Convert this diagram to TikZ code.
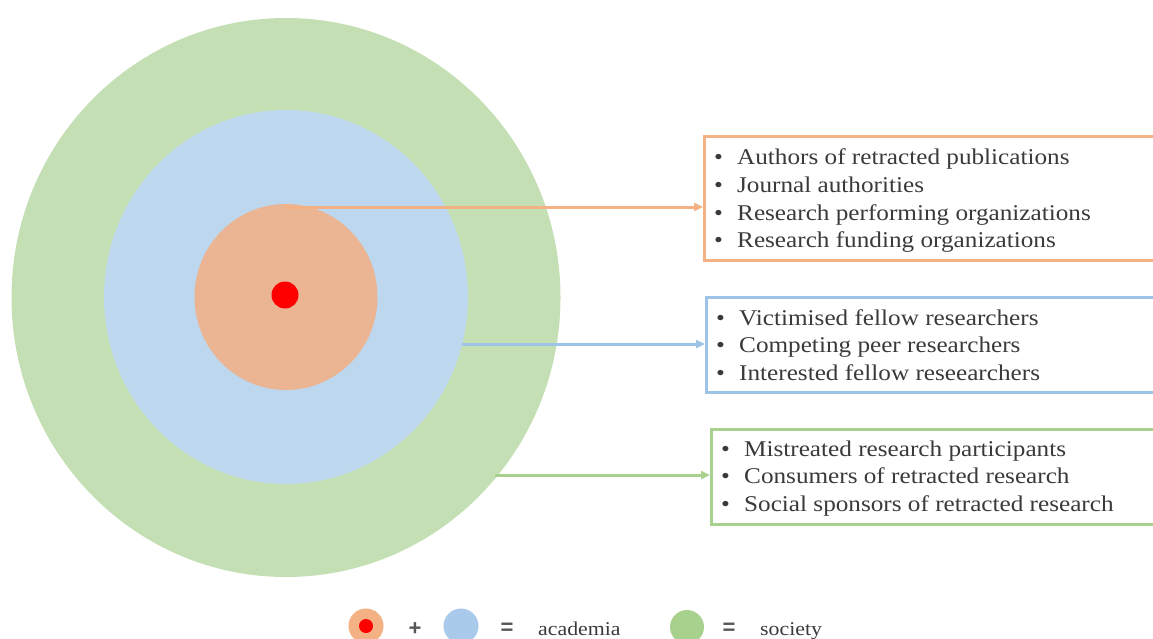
\documentclass[tikz,border=0pt]{standalone}
\usepackage{fontspec}
\setmainfont{Liberation Serif}[FakeStretch=1.12]
\newfontfamily\symfont{Liberation Sans}
\usetikzlibrary{arrows.meta,shapes.geometric}
\definecolor{ringgreen}{HTML}{C5DFB4}
\definecolor{ringblue}{HTML}{BDD7EE}
\definecolor{ringorange}{HTML}{EBB594}
\definecolor{boxorange}{HTML}{F4B183}
\definecolor{boxblue}{HTML}{9DC3E6}
\definecolor{boxgreen}{HTML}{A9D18E}
\definecolor{legblue}{HTML}{A9CAEB}
\definecolor{txt}{HTML}{3A3A3A}
\begin{document}
\begin{tikzpicture}[x=1pt,y=-1pt,
  ring/.style={ellipse,draw=none,inner sep=0pt},
  dot/.style={circle,draw=none,inner sep=0pt},
  listbox/.style={draw=#1,line width=3pt,rectangle,anchor=north west,minimum width=470pt,inner sep=0pt},
  item/.style={anchor=base west,inner sep=0pt,text=txt,font=\fontsize{22.5}{27}\selectfont},
  conn/.style={draw=#1,line width=3pt,-{Triangle[length=9pt,width=8pt]}},
  legtext/.style={anchor=base west,inner sep=0pt,text=txt,font=\fontsize{19.5}{24}\selectfont},
  legsym/.style={inner sep=0pt,text=txt!85,font=\symfont\bfseries\fontsize{22}{26}\selectfont}
]
\clip (0,0) rectangle (1153,639);
\useasboundingbox (0,0) rectangle (1153,639);
% rings
\node[ring,fill=ringgreen,minimum width=549pt,minimum height=559pt] (green) at (286,297.5) {};
\node[ring,fill=ringblue,minimum width=364pt,minimum height=374pt] (blue) at (286,297) {};
\node[ring,fill=ringorange,minimum width=183pt,minimum height=186pt] (orange) at (286,297) {};
\node[dot,fill=red,minimum size=27pt] (core) at (285,295) {};
% boxes
\node[listbox=boxorange,minimum height=124pt] (ob) at (703,135) {};
\node[listbox=boxblue,minimum height=95pt] (bb) at (705,296) {};
\node[listbox=boxgreen,minimum height=95pt] (gb) at (710,428) {};
% orange list
\node[item] (o1) at (714,165) {\makebox[23pt][l]{•}Authors of retracted publications};
\node[item] (o2) at (714,192.5) {\makebox[23pt][l]{•}Journal authorities};
\node[item] (o3) at (714,220) {\makebox[23pt][l]{•}Research performing organizations};
\node[item] (o4) at (714,247.5) {\makebox[23pt][l]{•}Research funding organizations};
% blue list
\node[item] (b1) at (716,325) {\makebox[23pt][l]{•}Victimised fellow researchers};
\node[item] (b2) at (716,352.5) {\makebox[23pt][l]{•}Competing peer researchers};
\node[item] (b3) at (716,380) {\makebox[23pt][l]{•}Interested fellow reseearchers};
% green list
\node[item] (g1) at (721,456) {\makebox[23pt][l]{•}Mistreated research participants};
\node[item] (g2) at (721,483.5) {\makebox[23pt][l]{•}Consumers of retracted research};
\node[item] (g3) at (721,511) {\makebox[23pt][l]{•}Social sponsors of retracted research};
% connectors
\coordinate (oa) at (284,207);
\coordinate (ba) at (462,344);
\coordinate (ga) at (495,475);
\draw[conn=boxorange] (oa) -- (oa -| ob.west);
\draw[conn=boxblue] (ba) -- (ba -| bb.west);
\draw[conn=boxgreen] (ga) -- (ga -| gb.west);
% legend
\node[dot,fill=boxorange,minimum size=35pt] (lo) at (366,626) {};
\node[dot,fill=red,minimum size=14pt] (lr) at (366,626) {};
\node[legsym] (plus) at (415,629) {+};
\node[dot,fill=legblue,minimum size=35pt] (lb) at (461,626) {};
\node[legsym] (eq1) at (507,629) {=};
\node[legtext] (acad) at (538,635) {academia};
\node[dot,fill=boxgreen,minimum size=34pt] (lg) at (687,627) {};
\node[legsym] (eq2) at (729,629) {=};
\node[legtext] (soc) at (760,635) {society};
\end{tikzpicture}
\end{document}
